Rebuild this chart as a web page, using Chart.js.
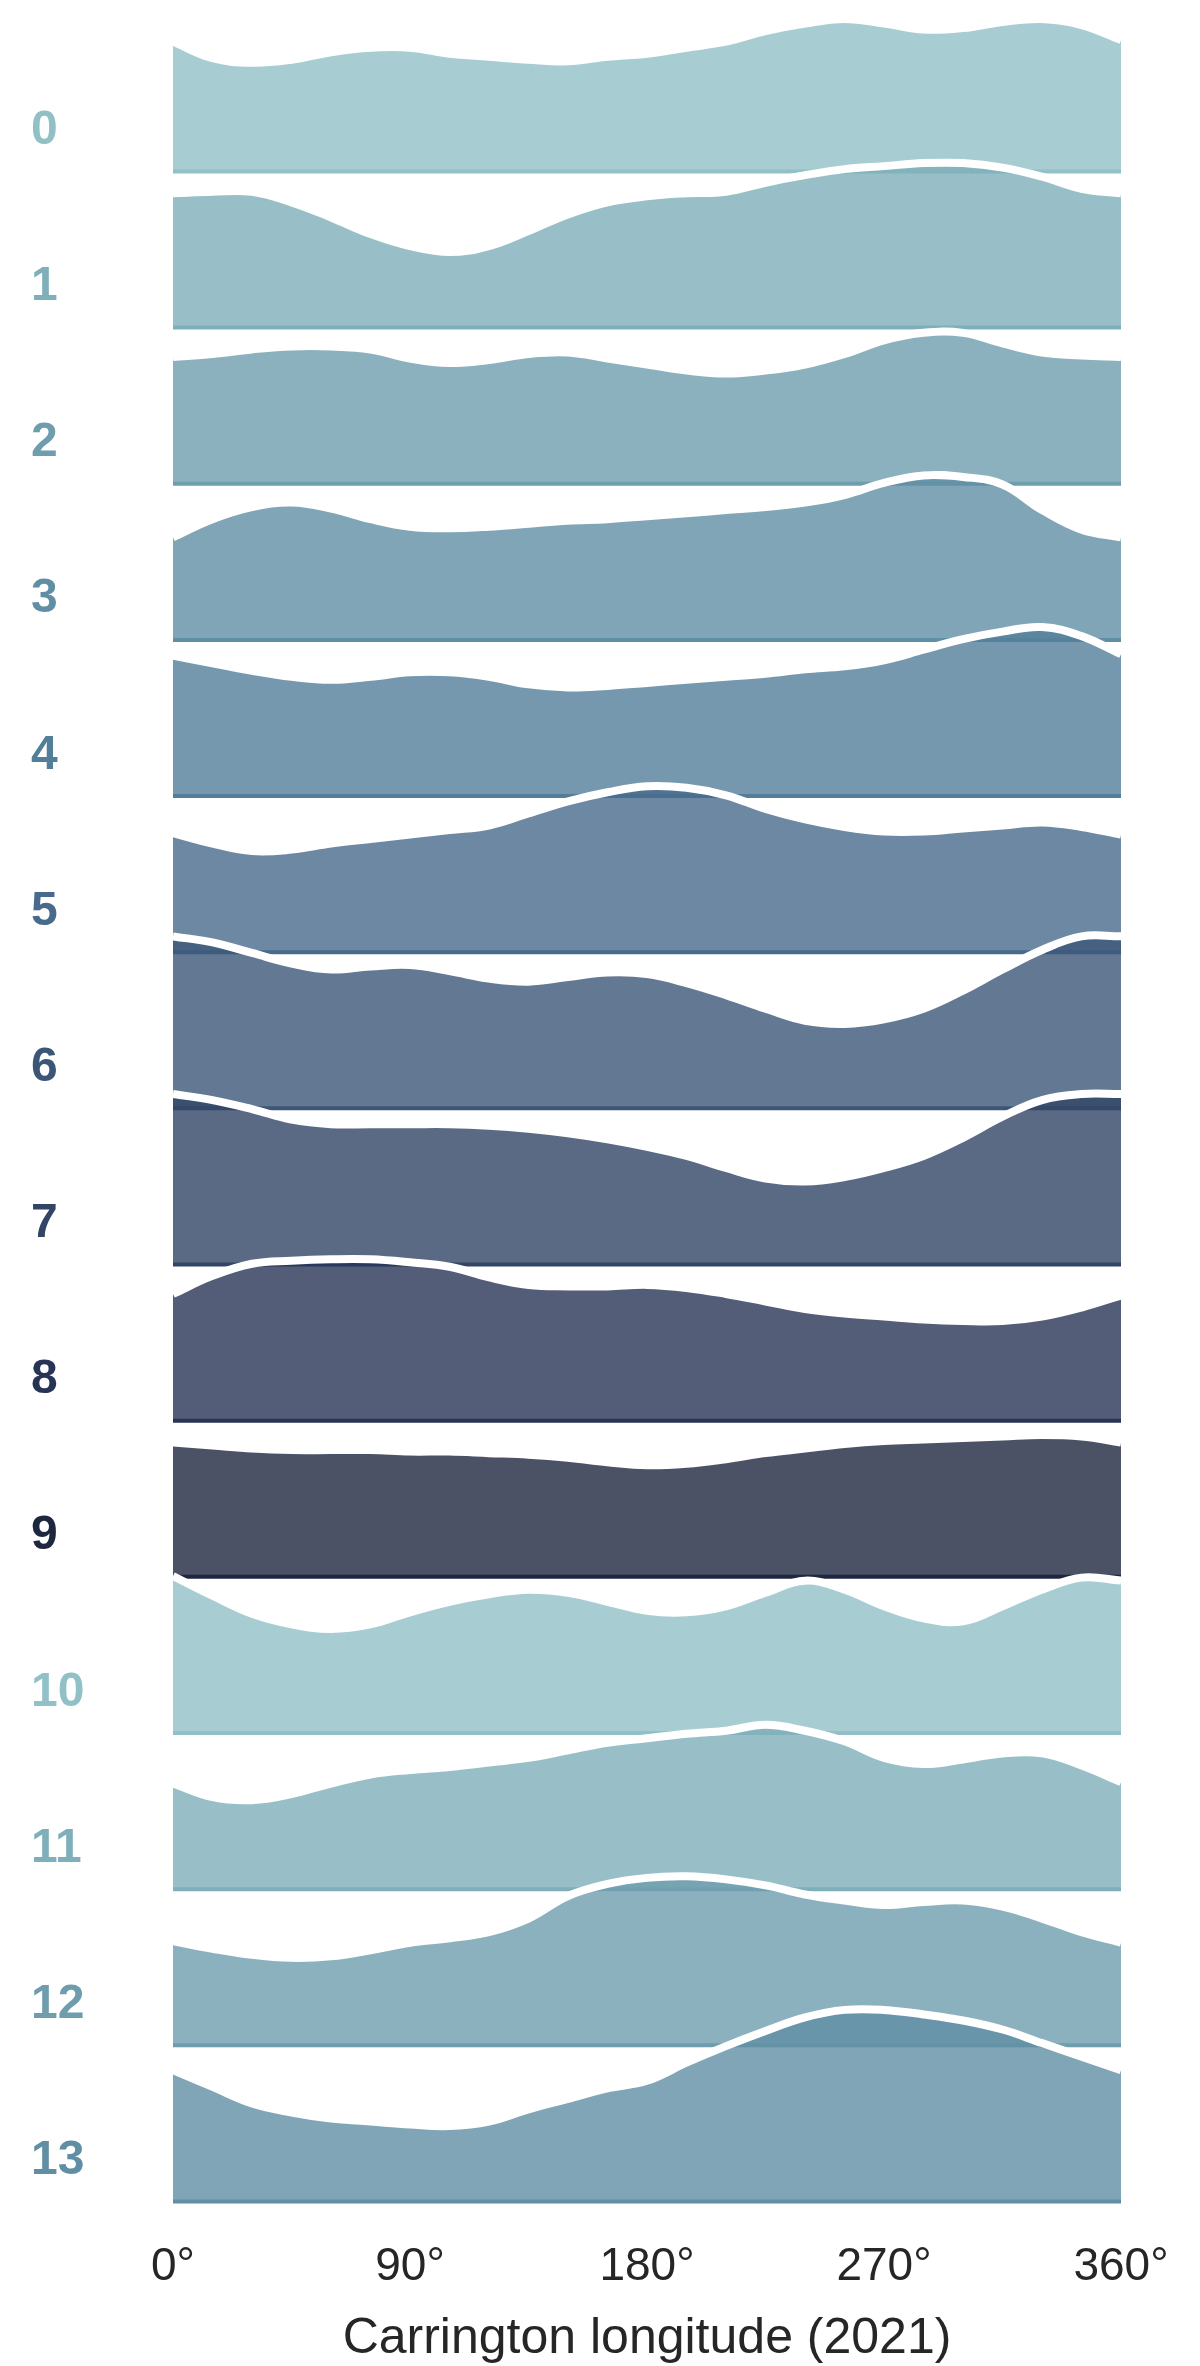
<!DOCTYPE html>
<html>
<head>
<meta charset="utf-8">
<script src="https://cdn.jsdelivr.net/npm/chart.js@4.4.1/dist/chart.umd.min.js"></script>
<style>
  html, body { margin: 0; padding: 0; background: #fff; }
</style>
</head>
<body>
<canvas id="ridgeChart" width="1200" height="2366"></canvas>
<script>
// longitude samples (degrees) and tick labels
var longitudes = [0, 15, 30, 45, 60, 75, 90, 105, 120, 135, 150, 165, 180, 195, 210, 225, 240, 255, 270, 285, 300, 315, 330, 345, 360];
var xTicks = [0, 90, 180, 270, 360];
var rowLabels = ['0', '1', '2', '3', '4', '5', '6', '7', '8', '9', '10', '11', '12', '13'];
var palette = ['#91c0c7', '#7eafba', '#6e9dae', '#608ea4', '#527e9a', '#486a8c', '#3c5678', '#324565', '#283456', '#1e2740'];

// density per row (arbitrary units)
var r0  = [86, 75, 72, 74, 79, 82, 82, 78, 76, 74, 73, 76, 78, 82, 86, 93, 98, 101, 98, 94, 95, 99, 101, 97, 87];
var r1  = [89, 90, 90, 83, 73, 62, 54, 50, 54, 64, 75, 83, 87, 89, 90, 96, 101, 105, 107, 109, 109, 106, 100, 92, 89];
var r2  = [84, 86, 89, 91, 91, 89, 83, 80, 82, 86, 87, 83, 79, 75, 73, 75, 79, 86, 95, 100, 100, 93, 87, 85, 84];
var r3  = [68, 80, 88, 91, 87, 80, 75, 74, 75, 77, 79, 80, 82, 84, 86, 88, 91, 96, 104, 109, 108, 103, 86, 73, 68];
var r4  = [93, 88, 83, 79, 77, 79, 82, 82, 79, 74, 72, 73, 75, 77, 79, 81, 84, 86, 90, 97, 104, 109, 112, 106, 94];
var r5  = [79, 72, 67, 68, 72, 75, 78, 81, 84, 92, 100, 106, 110, 109, 104, 95, 88, 83, 80, 80, 82, 84, 86, 83, 78];
var r6  = [114, 110, 103, 96, 92, 94, 95, 91, 86, 84, 87, 90, 89, 83, 75, 66, 58, 56, 59, 66, 78, 92, 105, 114, 114];
var r7  = [113, 109, 103, 96, 93, 93, 93, 93, 92, 90, 87, 83, 78, 72, 64, 57, 55, 58, 64, 72, 84, 98, 109, 113, 113];
var r8  = [84, 96, 104, 106, 107, 107, 105, 102, 95, 90, 89, 89, 90, 88, 84, 79, 74, 71, 69, 67, 66, 66, 69, 75, 83];
var r9  = [89, 87, 85, 84, 84, 84, 83, 83, 82, 81, 79, 76, 74, 75, 78, 82, 85, 88, 90, 91, 92, 93, 94, 93, 89];
var r10 = [104, 91, 79, 72, 69, 72, 80, 87, 92, 95, 93, 87, 81, 80, 84, 93, 101, 95, 84, 76, 74, 84, 95, 103, 101];
var r11 = [70, 61, 59, 63, 70, 76, 79, 81, 84, 87, 92, 97, 100, 103, 105, 109, 105, 98, 87, 83, 86, 90, 90, 82, 71];
var r12 = [69, 64, 60, 58, 59, 63, 68, 71, 75, 84, 99, 107, 111, 112, 110, 106, 100, 96, 93, 95, 96, 92, 84, 75, 68];
var r13 = [87, 76, 65, 59, 55, 53, 51, 50, 53, 61, 68, 75, 80, 92, 103, 113, 122, 127, 127, 124, 120, 114, 105, 96, 87];
var ridges = [r0, r1, r2, r3, r4, r5, r6, r7, r8, r9, r10, r11, r12, r13];

var ROW_GAP = 103.5;   // vertical offset between ridges
var LABEL_LIFT = 27;   // row label sits a little above its baseline
var nRows = ridges.length;

function rowBase(i) { return (nRows - 1 - i) * ROW_GAP; }

function rgba(hex, a) {
  var n = parseInt(hex.slice(1), 16);
  return 'rgba(' + (n >> 16) + ',' + ((n >> 8) & 255) + ',' + (n & 255) + ',' + a + ')';
}

Chart.defaults.font.family = "'Liberation Sans', Arial, sans-serif";

var datasets = [];
ridges.forEach(function(vals, i) {
  var base = rowBase(i);
  var col = palette[i % palette.length];
  // density fill with white outline
  datasets.push({
    data: longitudes.map(function(x, k) { return {x: x, y: base + vals[k]}; }),
    fill: {value: base},
    backgroundColor: rgba(col, 0.8),
    borderColor: '#ffffff',
    borderWidth: 8,
    borderJoinStyle: 'round',
    tension: 0.4,
    pointRadius: 0
  });
  // baseline
  datasets.push({
    data: [{x: longitudes[0], y: base}, {x: longitudes[longitudes.length - 1], y: base}],
    fill: false,
    borderColor: col,
    borderWidth: 4,
    borderCapStyle: 'butt',
    pointRadius: 0
  });
});
// later rows are painted over earlier ones
datasets.forEach(function(ds, j) { ds.order = datasets.length - j; });

new Chart(document.getElementById('ridgeChart'), {
  type: 'line',
  data: {datasets: datasets},
  options: {
    responsive: false,
    animation: false,
    devicePixelRatio: 1,
    layout: {padding: {left: 31, right: 79, top: 0, bottom: 20.8}},
    plugins: {legend: {display: false}, tooltip: {enabled: false}},
    scales: {
      x: {
        type: 'linear',
        min: 0,
        max: 360,
        grid: {display: false, drawTicks: false},
        border: {display: false},
        afterBuildTicks: function(scale) {
          scale.ticks = xTicks.map(function(v) { return {value: v}; });
        },
        ticks: {
          padding: 30,
          maxRotation: 0,
          autoSkip: false,
          color: '#262626',
          font: {size: 46, lineHeight: 1.2},
          callback: function(v) { return v + '°'; }
        },
        title: {
          display: true,
          text: 'Carrington longitude (2021)',
          color: '#262626',
          font: {size: 50, lineHeight: 0.25},
          padding: {top: 8, bottom: 0}
        }
      },
      y: {
        type: 'linear',
        min: -5.3,
        max: 1459.1,
        grid: {display: false, drawTicks: false},
        border: {display: false},
        afterFit: function(scale) {
          scale.width = 142;
          scale.paddingTop = 0;
          scale.paddingBottom = 0;
        },
        afterBuildTicks: function(scale) {
          scale.ticks = rowLabels.map(function(l, i) { return {value: rowBase(i) + LABEL_LIFT}; });
        },
        ticks: {
          crossAlign: 'far',
          padding: 0,
          autoSkip: false,
          font: {size: 48, weight: 'bold'},
          color: function(ctx) { return palette[ctx.index % palette.length]; },
          callback: function(v, idx) { return rowLabels[idx]; }
        }
      }
    }
  }
});
</script>
</body>
</html>
